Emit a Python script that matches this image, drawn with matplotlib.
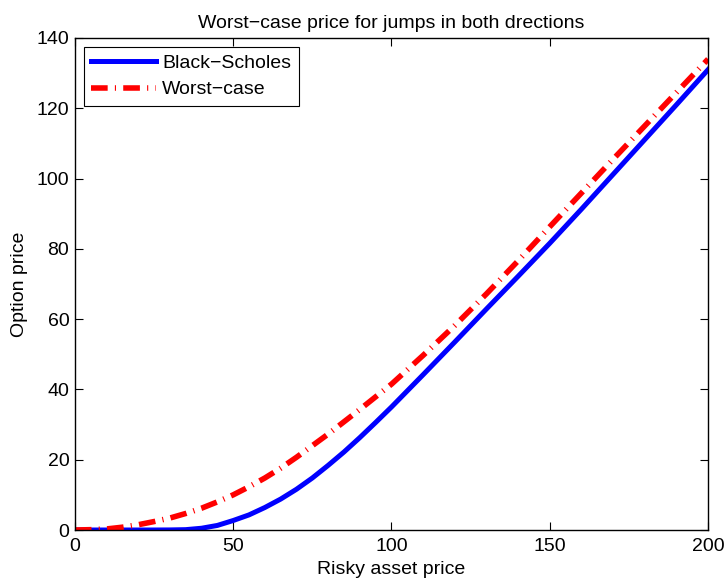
import matplotlib
matplotlib.use('Agg')
import matplotlib.pyplot as plt

plt.rcParams['font.family'] = ['Liberation Sans', 'DejaVu Sans']

# values
asset = [0, 5, 10, 15, 20, 25, 30, 35, 40, 45, 50, 55, 60, 65, 70, 75, 80, 85, 90, 95,
         100, 110, 120, 130, 140, 150, 160, 170, 180, 190, 200]
black_scholes = [0, 0, 0, 0, 0, 0, 0.02, 0.1, 0.5, 1.3, 2.7, 4.3, 6.4, 8.8, 11.6, 14.8,
                 18.4, 22.2, 26.3, 30.6, 35.0, 44.2, 53.5, 62.9, 72.2, 81.6, 91.3,
                 101.2, 111.1, 121.0, 131.0]
worst_case = [0, 0.1, 0.3, 0.8, 1.5, 2.4, 3.4, 4.7, 6.2, 8.0, 10.0, 12.3, 14.8, 17.6,
              20.7, 24.0, 27.3, 30.8, 34.3, 37.9, 41.5, 49.7, 58.2, 67.2, 76.6, 86.3,
              95.9, 105.5, 115.0, 124.5, 134.0]

fig = plt.figure(figsize=(7.27, 5.8), dpi=100)
ax = fig.add_axes([0.103, 0.0862, 0.871, 0.8483])

ax.plot(asset, black_scholes, color='#0000ff', lw=3.6, label='Black\u2212Scholes')
ax.plot(asset, worst_case, color='#ff0000', lw=4, dash_capstyle='butt',
        linestyle=(0, (3, 1.3, 0.2, 1.3)), label='Worst\u2212case')

ax.set_xlim(0, 200)
ax.set_ylim(0, 140)
ax.set_xticks([0, 50, 100, 150, 200])
ax.set_yticks(range(0, 141, 20))
ax.tick_params(direction='in', top=True, right=True, length=6, width=0.8,
               labelsize=14, pad=4)
ax.tick_params(axis='x', pad=6)
for s in ax.spines.values():
    s.set_linewidth(1.0)

ax.set_title('Worst\u2212case price for jumps in both drections', fontsize=14, pad=7)
ax.set_xlabel('Risky asset price', fontsize=14, labelpad=4)
ax.set_ylabel('Option price', fontsize=14, labelpad=6)

leg = ax.legend(loc='upper left', fontsize=14, fancybox=False, framealpha=1,
                edgecolor='black', handlelength=3.3, borderaxespad=0.45,
                labelspacing=0.45, handletextpad=0.35, borderpad=0.4)
leg.get_frame().set_linewidth(0.8)

fig.savefig('out.png', dpi=100)
